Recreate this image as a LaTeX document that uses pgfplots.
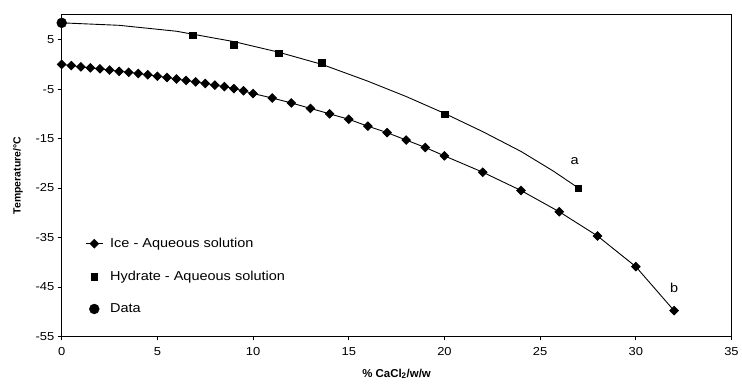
\documentclass[border=0pt]{standalone}
\usepackage{fontspec}
\setmainfont{Liberation Sans}
\newfontfamily\wideface{Liberation Sans}[FakeStretch=1.12]
\usepackage{pgfplots}
\pgfplotsset{compat=1.18}

% Freezing curve of ice (liquidus, ice side)
\pgfplotstableread{
x     T
0     0.0
0.5  -0.25
1    -0.5
1.5  -0.7
2    -0.9
2.5  -1.15
3    -1.4
3.5  -1.6
4    -1.85
4.5  -2.1
5    -2.4
5.5  -2.65
6    -2.95
6.5  -3.25
7    -3.55
7.5  -3.85
8    -4.2
8.5  -4.5
9    -4.9
9.5  -5.35
10   -5.9
11   -6.8
12   -7.8
13   -8.9
14   -10.0
15   -11.1
16   -12.5
17   -13.8
18   -15.3
19   -16.8
20   -18.5
22   -21.8
24   -25.5
26   -29.8
28   -34.7
30   -40.9
32   -49.8
}\icedata

% Hydrate solubility points
\pgfplotstableread{
x     T
6.85  5.9
9.0   4.0
11.35 2.3
13.6  0.3
20.0 -10.1
27.0 -25.0
}\hydratepts

% Fitted hydrate curve
\pgfplotstableread{
x     T
0     8.4
3     7.9
6     6.7
9     4.6
11.3  2.5
13.6  0.0
16   -3.4
18   -6.5
20   -9.9
22   -13.6
24   -17.6
25.7 -21.6
27   -25.0
}\hydratefit

\begin{document}
\begin{tikzpicture}
\begin{axis}[
  scale only axis,
  width=673pt, height=323pt,
  xmin=0, xmax=35, ymin=-55, ymax=10,
  xtick={0,5,...,35}, ytick={-55,-45,...,5},
  tick align=outside, xtick pos=bottom, ytick pos=left,
  major tick length=4pt,
  axis line style={line width=0.9pt},
  tick style={line width=0.8pt, black},
  /pgf/number format/assume math mode=true,
  ticklabel style={font=\wideface\fontsize{11.6}{14}\selectfont},
  xticklabel style={yshift=-4pt},
  xlabel={\textbf{\% CaCl\textsubscript{2}/w/w}},
  ylabel={\textbf{Temperature/°C}},
  xlabel style={font=\fontsize{11.5}{13}\selectfont, yshift=-6pt},
  ylabel style={font=\fontsize{10.5}{12}\selectfont, yshift=6pt},
  legend style={draw=none, fill=none, at={(0.035,0.309)}, anchor=north west,
    font=\wideface\fontsize{13}{16}\selectfont, row sep=20pt, inner sep=0pt,
    nodes={inner xsep=7pt, inner ysep=1pt}},
  legend cell align=left,
  clip=false,
]
\addplot[black, line width=0.9pt, mark=square*, mark size=3pt,
  mark options={rotate=45, fill=black}] table[x=x, y=T] {\icedata};
\addlegendentry{Ice - Aqueous solution}

\addplot[black, line width=0.9pt, forget plot] table[x=x, y=T] {\hydratefit};

\addplot[only marks, black, mark=square*, mark size=3.3pt] table[x=x, y=T] {\hydratepts};
\addlegendentry{Hydrate - Aqueous solution}

\addplot[only marks, black, mark=*, mark size=5pt] coordinates {(0, 8.4)};
\addlegendentry{Data}

\node[font=\wideface\fontsize{13}{16}\selectfont] at (axis cs:26.8,-19.5) {a};
\node[font=\wideface\fontsize{13}{16}\selectfont] at (axis cs:32,-45.2) {b};
\end{axis}
\path ([yshift=15pt]current axis.north west);
\path ([xshift=-62pt,yshift=-50pt]current axis.south west);
\end{tikzpicture}
\end{document}
